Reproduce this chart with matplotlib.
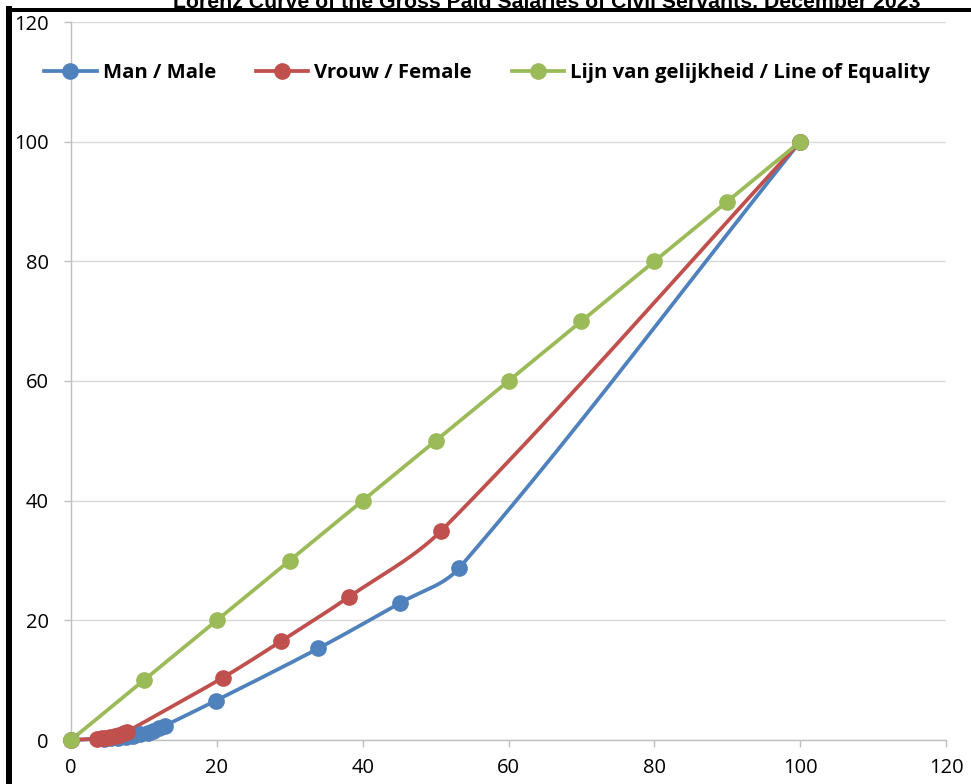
import numpy as np
import matplotlib
matplotlib.use("Agg")
import matplotlib.pyplot as plt
from matplotlib.patches import Rectangle

# ---- data ----
title = "Lorenz Curve of the Gross Paid Salaries of Civil Servants, December 2023"
series_names = ["Man / Male", "Vrouw / Female", "Lijn van gelijkheid / Line of Equality"]

male_x = [0, 4.5, 5.5, 6.5, 7.5, 8.5, 9.5, 10.5, 11.3, 12.1, 12.9, 19.9, 33.9, 45.1, 53.2, 100]
male_y = [0, 0.2, 0.3, 0.4, 0.55, 0.75, 0.95, 1.25, 1.55, 1.95, 2.4, 6.6, 15.3, 22.9, 28.7, 100]

female_x = [0, 3.5, 4.2, 4.8, 5.4, 6.0, 6.6, 7.2, 7.7, 20.8, 28.8, 38.1, 50.8, 100]
female_y = [0, 0.2, 0.3, 0.4, 0.5, 0.7, 0.9, 1.1, 1.4, 10.4, 16.5, 23.9, 35.0, 100]

equal_x = [0, 10, 20, 30, 40, 50, 60, 70, 80, 90, 100]
equal_y = [0, 10, 20, 30, 40, 50, 60, 70, 80, 90, 100]

x_ticks = [0, 20, 40, 60, 80, 100, 120]
y_ticks = [0, 20, 40, 60, 80, 100, 120]

colors = ["#4F81BD", "#C0504D", "#9BBB59"]

W, H = 971, 784
DPI = 100


def smooth(xs, ys, sx=1.0, sy=1.0, n=40):
    """Smoothed line through the points (length-weighted Catmull-Rom Bezier)."""
    p = np.column_stack([np.asarray(xs, float) * sx, np.asarray(ys, float) * sy])
    out = [p[0]]
    m = len(p)
    for i in range(m - 1):
        p0 = p[i - 1] if i > 0 else p[i]
        p1 = p[i]
        p2 = p[i + 1]
        p3 = p[i + 2] if i + 2 < m else p[i + 1]
        d01 = np.linalg.norm(p1 - p0)
        d12 = np.linalg.norm(p2 - p1)
        d23 = np.linalg.norm(p3 - p2)
        if i > 0:
            c1 = p1 + (p2 - p0) * d12 / (d01 + d12) / 3.0
        else:
            c1 = p1 + (p2 - p1) / 3.0
        if i + 2 < m:
            c2 = p2 - (p3 - p1) * d12 / (d12 + d23) / 3.0
        else:
            c2 = p2 - (p2 - p1) / 3.0
        t = np.linspace(0, 1, n)[1:, None]
        seg = ((1 - t) ** 3) * p1 + 3 * ((1 - t) ** 2) * t * c1 + 3 * (1 - t) * t ** 2 * c2 + t ** 3 * p2
        out.extend(seg)
    out = np.array(out)
    return out[:, 0] / sx, out[:, 1] / sy


fig = plt.figure(figsize=(W / DPI, H / DPI), dpi=DPI)
fig.patch.set_facecolor("white")

ax_l, ax_r, ax_t, ax_b = 71, 946, 22, 740
ax = fig.add_axes([ax_l / W, (H - ax_b) / H, (ax_r - ax_l) / W, (ax_b - ax_t) / H])

sx = (ax_r - ax_l) / 120.0
sy = (ax_b - ax_t) / 120.0

lw = 2.7
ms = 11
handles = []
for (xs, ys), c, name in zip([(male_x, male_y), (female_x, female_y), (equal_x, equal_y)], colors, series_names):
    cx, cy = smooth(xs, ys, sx, sy)
    ax.plot(cx, cy, color=c, lw=lw, solid_capstyle="round", zorder=3, clip_on=False)
    ax.plot(xs, ys, ls="none", marker="o", ms=ms, color=c, mec=c, zorder=3.5, clip_on=False)
    h, = ax.plot([], [], color=c, lw=lw, marker="o", ms=ms, mec=c, label=name)
    handles.append(h)

ax.set_xlim(0, 120)
ax.set_ylim(0, 120)
ax.set_xticks(x_ticks)
ax.set_yticks(y_ticks)
ax.grid(axis="y", color="#D9D9D9", lw=1.0, zorder=0)
ax.set_axisbelow(True)
for s in ["top", "right"]:
    ax.spines[s].set_visible(False)
for s in ["left", "bottom"]:
    ax.spines[s].set_color("#BFBFBF")
    ax.spines[s].set_linewidth(1.0)
ax.tick_params(axis="both", colors="#BFBFBF", length=5, width=1.0, labelcolor="black",
               labelsize=14.5)
ax.tick_params(axis="x", pad=8)
ax.tick_params(axis="y", pad=11)
for lab in ax.get_xticklabels() + ax.get_yticklabels():
    lab.set_family(["Open Sans", "DejaVu Sans"])

leg = ax.legend(handles=handles, loc="center", bbox_to_anchor=(0.4755, 0.929), ncol=3,
                frameon=False, handlelength=2.6, handletextpad=0.3, columnspacing=1.95,
                prop={"family": ["Open Sans", "DejaVu Sans"], "weight": "bold", "size": 14.6},
                borderaxespad=0, borderpad=0)

# title (partially cut off at the top edge, as in the original)
fig.text(547 / W, 1 - 8 / H, title, ha="center", va="baseline",
         family=["Liberation Sans", "DejaVu Sans"], weight="bold", fontsize=15.3, color="black")

# black outer frame pieces
fig.add_artist(Rectangle((6 / W, 0), 6 / W, (H - 6) / H, transform=fig.transFigure,
                         facecolor="black", edgecolor="none", zorder=10))
fig.add_artist(Rectangle((6 / W, 1 - 12 / H), 1, 4 / H, transform=fig.transFigure,
                         facecolor="black", edgecolor="none", zorder=10))

fig.savefig("out.png", dpi=DPI, facecolor="white")
